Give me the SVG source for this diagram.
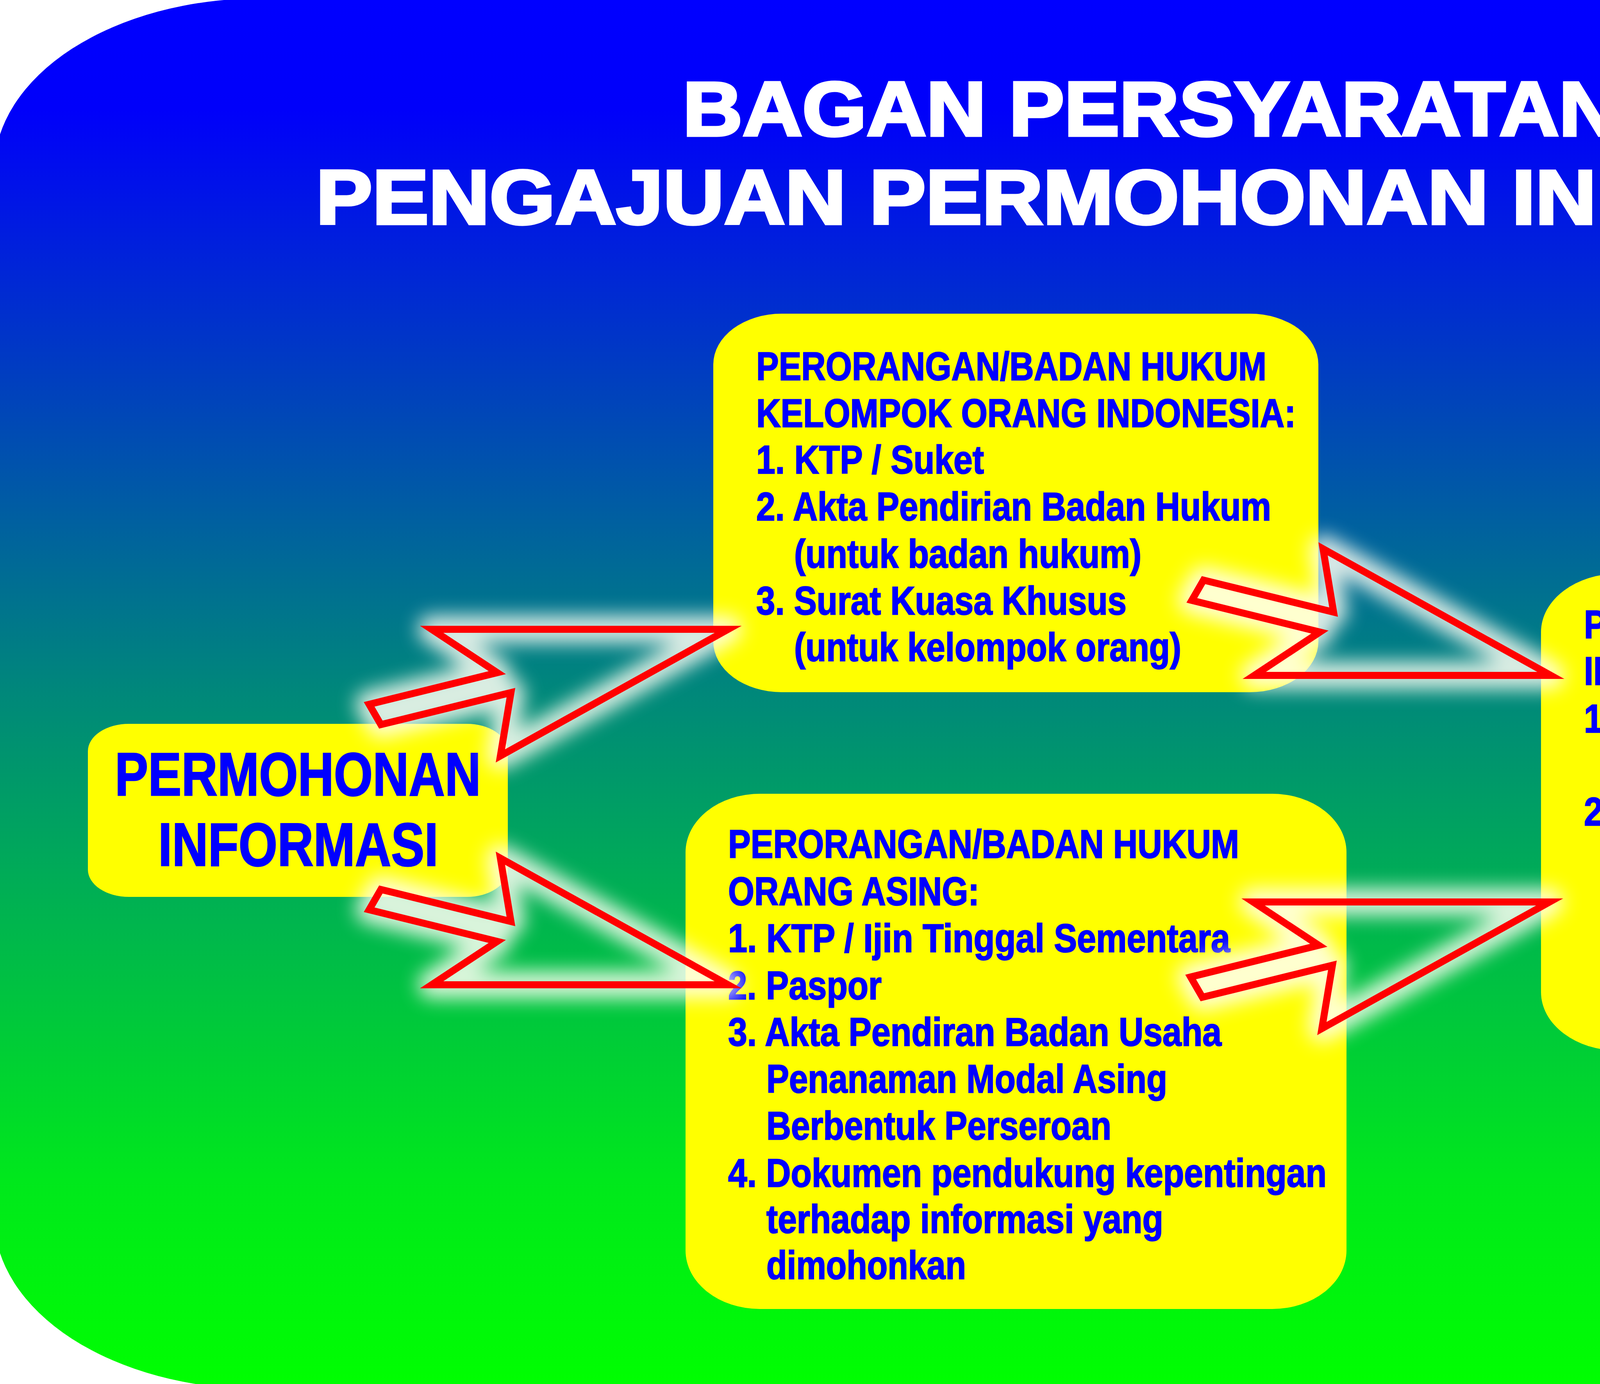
<svg xmlns="http://www.w3.org/2000/svg" width="5906" height="3543" viewBox="0 0 5906 3543">
<defs>
<linearGradient id="bg" x1="0" y1="0" x2="0" y2="1">
<stop offset="0" stop-color="#0000FF"/>
<stop offset="0.08" stop-color="#0000FA"/>
<stop offset="0.5" stop-color="#00887A"/>
<stop offset="0.85" stop-color="#00E81C"/>
<stop offset="1" stop-color="#00FF00"/>
</linearGradient>
<filter id="glow" x="-30%" y="-30%" width="160%" height="160%">
<feGaussianBlur stdDeviation="24"/>
</filter>
<polygon id="arrowA" points="1864,1611 1105,1611 1273,1722 945,1803 975,1855 1308,1773 1281,1935"/>
<polygon id="arrowB" points="1864,2521 1105,2521 1273,2410 945,2329 975,2277 1308,2359 1281,2197"/>
</defs>
<style>
.box{fill:#FFFF00;}
.t{font-family:"Liberation Sans Narrow","Liberation Sans",Arial,sans-serif;font-weight:bold;font-size:102px;fill:#0000FF;stroke:#0000FF;stroke-width:2.5;}
.big{font-family:"Liberation Sans",Arial,sans-serif;font-weight:bold;font-size:155px;fill:#0000FF;stroke:#0000FF;stroke-width:3;}
.title{font-family:"Liberation Sans",Arial,sans-serif;font-weight:bold;font-size:196px;fill:#FFFFFF;stroke:#FFFFFF;stroke-width:7;}
.glow{fill:none;stroke:#FFFFF4;stroke-width:70;stroke-linejoin:round;opacity:0.85;filter:url(#glow);}
.arr{fill:none;stroke:#FF0000;stroke-width:18;stroke-linejoin:miter;stroke-miterlimit:10;}
</style>
<rect x="-15" y="-4" width="5921" height="3560" rx="680" ry="440" fill="url(#bg)"/>
<g id="title">
<text class="title" x="1748" y="347" textLength="2396" lengthAdjust="spacingAndGlyphs">BAGAN PERSYARATAN</text>
<text class="title" x="809" y="573" textLength="4274" lengthAdjust="spacingAndGlyphs">PENGAJUAN PERMOHONAN INFORMASI</text>
</g>
<g id="node-permohonan">
<rect class="box" x="225" y="1853" width="1075" height="443" rx="105" ry="70"/>
<text class="big" x="294" y="2036" textLength="937" lengthAdjust="spacingAndGlyphs">PERMOHONAN</text>
<text class="big" x="405" y="2216" textLength="717" lengthAdjust="spacingAndGlyphs">INFORMASI</text>
</g>
<g id="node-indonesia">
<rect class="box" x="1826" y="803" width="1549" height="969" rx="175" ry="130"/>
<text class="t" x="1936" y="973" textLength="1306" lengthAdjust="spacingAndGlyphs">PERORANGAN/BADAN HUKUM</text>
<text class="t" x="1936" y="1093" textLength="1381" lengthAdjust="spacingAndGlyphs">KELOMPOK ORANG INDONESIA:</text>
<text class="t" x="1936" y="1212" textLength="583" lengthAdjust="spacingAndGlyphs">1. KTP / Suket</text>
<text class="t" x="1936" y="1332" textLength="1318" lengthAdjust="spacingAndGlyphs">2. Akta Pendirian Badan Hukum</text>
<text class="t" x="2033" y="1453" textLength="889" lengthAdjust="spacingAndGlyphs">(untuk badan hukum)</text>
<text class="t" x="1936" y="1573" textLength="948" lengthAdjust="spacingAndGlyphs">3. Surat Kuasa Khusus</text>
<text class="t" x="2033" y="1692" textLength="991" lengthAdjust="spacingAndGlyphs">(untuk kelompok orang)</text>
</g>
<g id="node-asing">
<rect class="box" x="1755" y="2032" width="1692" height="1319" rx="190" ry="150"/>
<text class="t" x="1864" y="2196" textLength="1308" lengthAdjust="spacingAndGlyphs">PERORANGAN/BADAN HUKUM</text>
<text class="t" x="1864" y="2317" textLength="643" lengthAdjust="spacingAndGlyphs">ORANG ASING:</text>
<text class="t" x="1864" y="2437" textLength="1285" lengthAdjust="spacingAndGlyphs">1. KTP / Ijin Tinggal Sementara</text>
<text class="t" x="1864" y="2558" textLength="393" lengthAdjust="spacingAndGlyphs">2. Paspor</text>
<text class="t" x="1864" y="2677" textLength="1263" lengthAdjust="spacingAndGlyphs">3. Akta Pendiran Badan Usaha</text>
<text class="t" x="1962" y="2797" textLength="1026" lengthAdjust="spacingAndGlyphs">Penanaman Modal Asing</text>
<text class="t" x="1962" y="2917" textLength="883" lengthAdjust="spacingAndGlyphs">Berbentuk Perseroan</text>
<text class="t" x="1864" y="3038" textLength="1532" lengthAdjust="spacingAndGlyphs">4. Dokumen pendukung kepentingan</text>
<text class="t" x="1962" y="3156" textLength="1016" lengthAdjust="spacingAndGlyphs">terhadap informasi yang</text>
<text class="t" x="1962" y="3274" textLength="511" lengthAdjust="spacingAndGlyphs">dimohonkan</text>
</g>
<g id="node-pengadilan">
<rect class="box" x="3945" y="1468" width="1694" height="1222" rx="200" ry="150"/>
<text class="t" x="4055" y="1634" textLength="1449" lengthAdjust="spacingAndGlyphs">PENGADILAN/PETUGAS LAYANAN</text>
<text class="t" x="4055" y="1753" textLength="813" lengthAdjust="spacingAndGlyphs">INFORMASI WAJIB:</text>
<text class="t" x="4055" y="1875" textLength="1489" lengthAdjust="spacingAndGlyphs">1. Membantu Pemohon mengajukan</text>
<text class="t" x="4153" y="1995" textLength="390" lengthAdjust="spacingAndGlyphs">Informasi</text>
<text class="t" x="4055" y="2113" textLength="1533" lengthAdjust="spacingAndGlyphs">2. Menyediakan sarana dan prasrana</text>
<text class="t" x="4153" y="2234" textLength="1079" lengthAdjust="spacingAndGlyphs">layanan informasi dengan</text>
<text class="t" x="4153" y="2352" textLength="1432" lengthAdjust="spacingAndGlyphs">dukungan teknologi informasi dan</text>
<text class="t" x="4153" y="2474" textLength="1194" lengthAdjust="spacingAndGlyphs">memperhatikan aksesibilitas</text>
<text class="t" x="4153" y="2593" textLength="967" lengthAdjust="spacingAndGlyphs">penyandang disabilitas</text>
</g>
<g id="connectors">
<use href="#arrowA" class="glow"/>
<use href="#arrowB" class="glow"/>
<use href="#arrowB" class="glow" transform="translate(2106,-792)"/>
<use href="#arrowA" class="glow" transform="translate(2103,698)"/>
<use href="#arrowA" class="arr"/>
<use href="#arrowB" class="arr"/>
<use href="#arrowB" class="arr" transform="translate(2106,-792)"/>
<use href="#arrowA" class="arr" transform="translate(2103,698)"/>
</g>
</svg>
